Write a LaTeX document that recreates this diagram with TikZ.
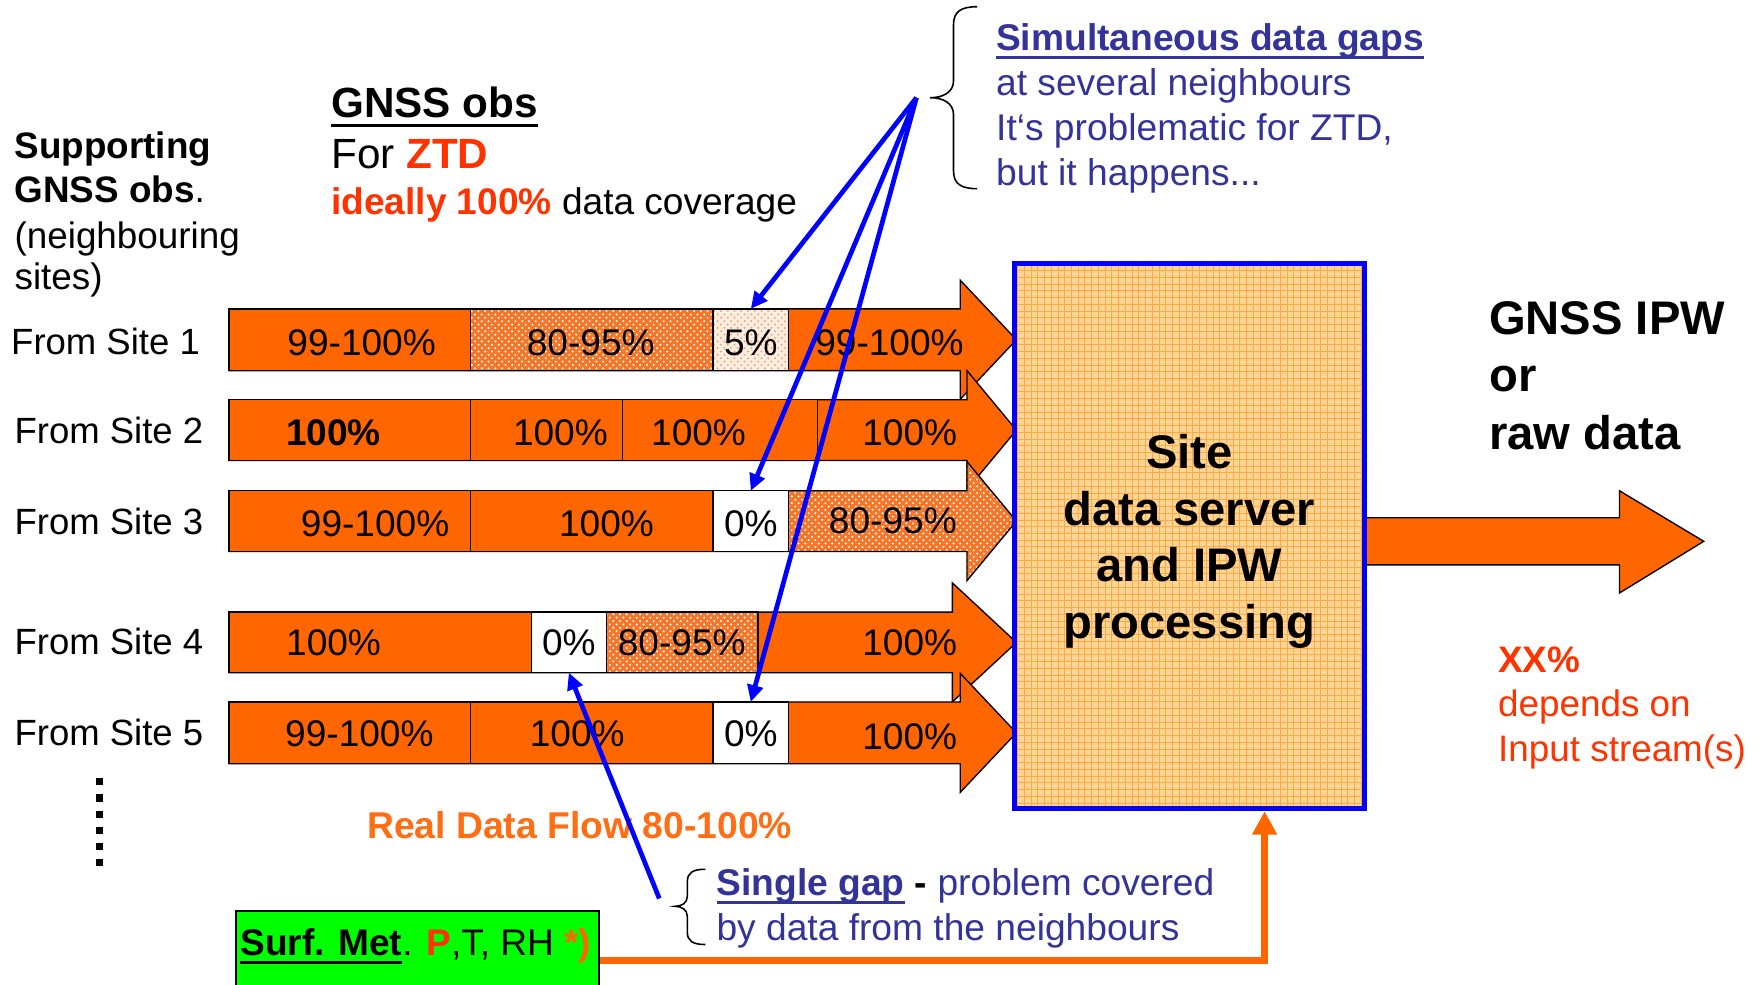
\documentclass[tikz,border=0pt]{standalone}
\usepackage{fontspec}
\setmainfont{Liberation Sans}
\usetikzlibrary{arrows.meta,patterns,calc}

\definecolor{orng}{RGB}{255,102,0}
\definecolor{ztdred}{RGB}{255,51,0}
\definecolor{dblue}{RGB}{51,51,153}
\definecolor{boxfill}{RGB}{255,212,150}
\definecolor{boxgrid}{RGB}{255,170,60}
\definecolor{midfill}{RGB}{245,118,40}
\definecolor{lightfill}{RGB}{253,238,226}
\definecolor{lightdot}{RGB}{245,165,115}
\definecolor{metgreen}{RGB}{0,255,0}
\definecolor{realorange}{RGB}{255,110,20}

\begin{document}
\begin{tikzpicture}[x=0.5pt, y=-0.5pt,
  txt/.style={inner sep=0pt, outer sep=0pt},
  pct/.style={txt, anchor=base, font=\fontsize{16.5}{19}\selectfont},
  sitelbl/.style={txt, anchor=base west, font=\fontsize{16.25}{19}\selectfont},
  segbase/.style={draw=black, line width=0.6pt, inner sep=0pt, outer sep=0pt},
  solidseg/.style={segbase, fill=orng},
  midseg/.style={segbase, preaction={fill=midfill}, pattern=crosshatch dots, pattern color=white},
  lightseg/.style={segbase, preaction={fill=lightfill}, pattern=crosshatch dots, pattern color=lightdot},
  whiteseg/.style={segbase, fill=white},
  barbody/.style={draw=black, line width=0.6pt, line join=miter, fill=orng},
  midbody/.style={draw=black, line width=0.6pt, line join=miter, preaction={fill=midfill}, pattern=crosshatch dots, pattern color=white},
  gaparrow/.style={draw=blue, line width=2.1pt, -{Triangle[length=7.5pt,width=7pt]}},
  bracepath/.style={draw=black, line width=0.7pt},
  bluetxt/.style={txt, anchor=base west, text=dblue, font=\fontsize{16.55}{19}\selectfont},
  bigtxt/.style={txt, font=\fontsize{21}{25}\selectfont\bfseries},
  lefttxt/.style={txt, anchor=base west, font=\fontsize{16.2}{19}\selectfont},
]
\path[use as bounding box] (0,0) rectangle (1568,877);
\clip (0,0) rectangle (1568,877);

% ---------- Row 1 ----------
\path[barbody] (204,275) -- (855,275) -- (855,249.5) -- (905,302.5) -- (855,355.5) -- (855,330) -- (204,330) -- cycle;
\node[solidseg, minimum width=107.5pt, minimum height=27.5pt] (r1a) at (311.5,302.5) {};
\node[midseg,   minimum width=108pt,   minimum height=27.5pt] (r1b) at (527,302.5) {};
\node[lightseg, minimum width=33.5pt,  minimum height=27.5pt] (r1c) at (668.5,302.5) {};

% ---------- Row 2 ----------
\path[barbody] (204,356) -- (861,356) -- (861,330) -- (905,383) -- (861,436) -- (861,410) -- (204,410) -- cycle;
\node[solidseg, minimum width=107.5pt, minimum height=27pt] (r2a) at (311.5,383) {};
\node[solidseg, minimum width=67.5pt,  minimum height=27pt] (r2b) at (486.5,383) {};
\node[solidseg, minimum width=87pt,    minimum height=27pt] (r2c) at (641,383) {};

% ---------- Row 3 ----------
\path[midbody] (204,437) -- (861,437) -- (861,411) -- (905,464) -- (861,517) -- (861,491) -- (204,491) -- cycle;
\node[solidseg, minimum width=107.5pt, minimum height=27pt] (r3a) at (311.5,464) {};
\node[solidseg, minimum width=108pt,   minimum height=27pt] (r3b) at (527,464) {};
\node[whiteseg, minimum width=33.5pt,  minimum height=27pt] (r3c) at (668.5,464) {};

% ---------- Row 4 ----------
\path[barbody] (204,545) -- (848,545) -- (848,519) -- (905,572) -- (848,625) -- (848,599) -- (204,599) -- cycle;
\node[solidseg, minimum width=134.5pt, minimum height=27pt] (r4a) at (338.5,572) {};
\node[whiteseg, minimum width=33.5pt,  minimum height=27pt] (r4b) at (506.5,572) {};
\node[midseg,   minimum width=67.5pt,  minimum height=27pt] (r4c) at (607.5,572) {};

% ---------- Row 5 ----------
\path[barbody] (204,625) -- (855,625) -- (855,599.5) -- (905,652.5) -- (855,705.5) -- (855,680) -- (204,680) -- cycle;
\node[solidseg, minimum width=107.5pt, minimum height=27.5pt] (r5a) at (311.5,652.5) {};
\node[solidseg, minimum width=108pt,   minimum height=27.5pt] (r5b) at (527,652.5) {};
\node[whiteseg, minimum width=33.5pt,  minimum height=27.5pt] (r5c) at (668.5,652.5) {};

% ---------- bar texts ----------
\node[pct] (p11) at (322,316.5) {99-100\%};
\node[pct] (p12) at (526,316.5) {80-95\%};
\node[pct] (p13) at (668.5,316.5) {5\%};
\node[pct] (p14) at (792,316.5) {99-100\%};
\node[pct, font=\fontsize{16.5}{19}\selectfont\bfseries] (p21) at (297,396.5) {100\%};
\node[pct] (p22) at (499,396.5) {100\%};
\node[pct] (p23) at (622,396.5) {100\%};
\node[pct] (p24) at (810,396.5) {100\%};
\node[pct] (p31) at (334,477.5) {99-100\%};
\node[pct] (p32) at (540,477.5) {100\%};
\node[pct] (p33) at (668.5,477.5) {0\%};
\node[pct] (p34) at (795,475) {80-95\%};
\node[pct] (p41) at (297,584) {100\%};
\node[pct] (p42) at (506.5,584) {0\%};
\node[pct] (p43) at (607,584) {80-95\%};
\node[pct] (p44) at (810,584) {100\%};
\node[pct] (p51) at (320,664.5) {99-100\%};
\node[pct] (p52) at (514,664.5) {100\%};
\node[pct] (p53) at (668.5,664.5) {0\%};
\node[pct] (p54) at (810,667) {100\%};

% ---------- site labels ----------
\node[sitelbl] (lbl1) at (10,316) {From Site 1};
\node[sitelbl] (lbl2) at (13,395) {From Site 2};
\node[sitelbl] (lbl3) at (13,476) {From Site 3};
\node[sitelbl] (lbl4) at (13,583) {From Site 4};
\node[sitelbl] (lbl5) at (13,664) {From Site 5};

% ---------- vertical dots ----------
\foreach \yy in {696,710.5,725,739.3,753.6,768}
  \fill[black] (85.5,\yy-3.25) rectangle (92,\yy+3.25);

% ---------- output arrow + server box ----------
\path[barbody] (1215,461) -- (1442,461) -- (1442,437) -- (1517,482) -- (1442,528) -- (1442,503) -- (1215,503) -- cycle;
\node[draw=blue, line width=2.2pt, preaction={fill=boxfill}, pattern=grid, pattern color=boxgrid,
      minimum width=156pt, minimum height=242.5pt, inner sep=0pt] (srv) at (1059,477.5) {};
\node[bigtxt, anchor=base] (srv1) at (1059,417) {Site};
\node[bigtxt, anchor=base] (srv2) at (1059,467.5) {data server};
\node[bigtxt, anchor=base] (srv3) at (1059,518) {and IPW};
\node[bigtxt, anchor=base] (srv4) at (1059,568.5) {processing};

\node[bigtxt, anchor=base west] (out1) at (1326,298) {GNSS IPW};
\node[bigtxt, anchor=base west] (out2) at (1326,349) {or};
\node[bigtxt, anchor=base west] (out3) at (1326,400) {raw data};

\node[txt, anchor=base west, text=ztdred, font=\fontsize{16.4}{19}\selectfont\bfseries] (xx1) at (1334,599) {XX\%};
\node[txt, anchor=base west, text=ztdred, font=\fontsize{16.4}{19}\selectfont] (xx2) at (1334,638) {depends on};
\node[txt, anchor=base west, text=ztdred, font=\fontsize{16.4}{19}\selectfont] (xx3) at (1334,678) {Input stream(s)};

% ---------- left / title texts ----------
\node[lefttxt, font=\fontsize{16.4}{19}\selectfont\bfseries] (sup1) at (13,141) {Supporting};
\node[lefttxt, font=\fontsize{16.4}{19}\selectfont] (sup2) at (13,180) {\bfseries GNSS obs\mdseries.};
\node[lefttxt, font=\fontsize{16.4}{19}\selectfont] (sup3) at (13,221) {(neighbouring};
\node[lefttxt, font=\fontsize{16.4}{19}\selectfont] (sup4) at (13,258) {sites)};

\node[txt, anchor=base west, font=\fontsize{18.8}{22}\selectfont\bfseries] (tgnss) at (295,105) {GNSS obs};
\draw[line width=1.5pt] ([yshift=-3.5pt]tgnss.base west) -- ([yshift=-3.5pt]tgnss.base east);
\node[txt, anchor=base west, font=\fontsize{18.8}{22}\selectfont] (tfor) at (295,150) {For \textcolor{ztdred}{\bfseries ZTD}};
\node[txt, anchor=base west, font=\fontsize{16.5}{20}\selectfont] (tideal) at (295,191) {\textcolor{ztdred}{\bfseries ideally 100\%} data coverage};

% ---------- simultaneous gaps ----------
\path[bracepath] (870,6) .. controls (856,6) and (849,10) .. (849,22) -- (849,72)
  .. controls (849,82) and (840,87) .. (828,87) .. controls (840,87) and (849,92) .. (849,102)
  -- (849,152) .. controls (849,164) and (856,168) .. (870,168);
\node[bluetxt, font=\fontsize{16.55}{19}\selectfont\bfseries] (sim1) at (887,45) {Simultaneous data gaps};
\draw[dblue, line width=1.3pt] ([yshift=-3.2pt]sim1.base west) -- ([yshift=-3.2pt]sim1.base east);
\node[bluetxt] (sim2) at (887,85) {at several neighbours};
\node[bluetxt] (sim3) at (887,125) {It‘s problematic for ZTD,};
\node[bluetxt] (sim4) at (887,165) {but it happens...};

% ---------- real data flow ----------
\node[txt, anchor=base west, text=realorange, font=\fontsize{16.6}{19}\selectfont\bfseries] (rdf) at (327,747) {Real Data Flow 80-100\%};

% ---------- single gap ----------
\path[bracepath] (628,774) .. controls (617,774) and (612,777) .. (612,785) -- (612,798)
  .. controls (612,804) and (607,807) .. (601,807) .. controls (607,807) and (612,810) .. (612,816)
  -- (612,830) .. controls (612,838) and (617,841) .. (628,841);
\node[bluetxt, font=\fontsize{16.55}{19}\selectfont\bfseries] (sg1) at (638,797) {Single gap};
\draw[dblue, line width=1.3pt] ([yshift=-3.4pt]sg1.base west) -- ([yshift=-3.4pt]sg1.base east);
\node[bluetxt, anchor=base west] (sg2) at (sg1.base east) {\ \textcolor{black}{\bfseries -} problem covered};
\node[bluetxt] (sg3) at (638,837) {by data from the neighbours};

% ---------- surface met box ----------
\node[draw=black, line width=0.8pt, fill=metgreen, minimum width=161.5pt, minimum height=44pt, inner sep=0pt] (met) at (371.5,855) {};
\node[txt, anchor=base west, font=\fontsize{16.5}{19}\selectfont\bfseries] (sm1) at (214,851) {Surf. Met};
\draw[line width=1.3pt] ([yshift=-2.8pt]sm1.base west) -- ([yshift=-2.8pt]sm1.base east);
\node[txt, anchor=base west, font=\fontsize{16.5}{19}\selectfont] (sm2) at (sm1.base east) {. \textcolor{ztdred}{\bfseries P},T, RH \textcolor{orng}{\bfseries *)}};

\draw[draw=orng, line width=3pt, -{Triangle[length=10.5pt,width=10.5pt]}] (met.east) -| ([xshift=33.5pt]srv.south);

% ---------- blue gap arrows ----------
\coordinate (gapsrc) at (816,87);
\draw[gaparrow] (gapsrc) -- (r1c.north);
\draw[gaparrow] (gapsrc) -- (r3c.north);
\draw[gaparrow] (gapsrc) -- (r5c.north);
\coordinate (singlesrc) at (587,800);
\draw[gaparrow] (singlesrc) -- (r4b.south);
\end{tikzpicture}
\end{document}
